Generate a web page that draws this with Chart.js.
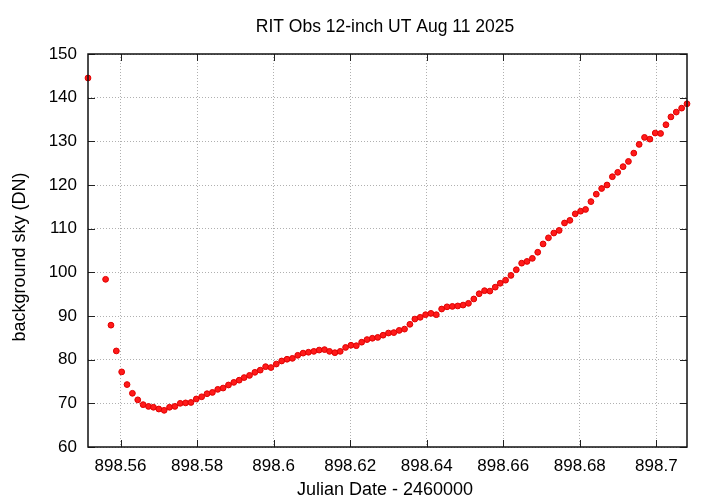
<html lang="en">
<head>
    <meta charset="UTF-8">
    <title>RIT Obs 12-inch UT Aug 11 2025</title>
    <style>
        body {
            margin: 0;
            background-color: #ffffff;
        }
        .chart-container {
            width: 720px;
            height: 504px;
        }
    </style>
</head>
<body>
    <div class="chart-container">
        <canvas id="skyChart" width="720" height="504"></canvas>
    </div>

    <script src="https://cdn.jsdelivr.net/npm/chart.js"></script>
    <script>
        // Julian Date - 2460000
        const julianDates = [
            898.5515,
            898.5561, 898.5575, 898.5589, 898.5603, 898.5617, 898.5631, 898.5645, 898.5659, 898.5673, 898.5686,
            898.5700, 898.5714, 898.5728, 898.5742, 898.5756, 898.5770, 898.5784, 898.5798, 898.5812, 898.5826,
            898.5840, 898.5854, 898.5868, 898.5882, 898.5896, 898.5910, 898.5923, 898.5937, 898.5951, 898.5965,
            898.5979, 898.5993, 898.6007, 898.6021, 898.6035, 898.6049, 898.6063, 898.6077, 898.6091, 898.6105,
            898.6119, 898.6133, 898.6146, 898.6160, 898.6174, 898.6188, 898.6202, 898.6216, 898.6230, 898.6244,
            898.6258, 898.6272, 898.6286, 898.6300, 898.6314, 898.6328, 898.6342, 898.6356, 898.6369, 898.6383,
            898.6397, 898.6411, 898.6425, 898.6439, 898.6453, 898.6467, 898.6481, 898.6495, 898.6509, 898.6523,
            898.6537, 898.6551, 898.6565, 898.6579, 898.6592, 898.6606, 898.6620, 898.6634, 898.6648, 898.6662,
            898.6676, 898.6690, 898.6704, 898.6718, 898.6732, 898.6746, 898.6760, 898.6774, 898.6788, 898.6802,
            898.6815, 898.6829, 898.6843, 898.6857, 898.6871, 898.6885, 898.6899, 898.6913, 898.6927, 898.6941,
            898.6955, 898.6969, 898.6983, 898.6997, 898.7011, 898.7025, 898.7038, 898.7052, 898.7066, 898.7080
        ];

        // background sky (DN)
        const skyValues = [
            144.5,
            98.4, 87.9, 82.0, 77.2, 74.3, 72.3, 70.8, 69.7, 69.3, 69.1,
            68.7, 68.4, 69.1, 69.3, 70.0, 70.1, 70.2, 71.0, 71.5, 72.2,
            72.5, 73.2, 73.5, 74.2, 74.8, 75.3, 75.9, 76.4, 77.1, 77.6,
            78.4, 78.2, 79.0, 79.7, 80.1, 80.3, 81.0, 81.5, 81.7, 81.9,
            82.2, 82.3, 81.9, 81.6, 81.9, 82.8, 83.3, 83.2, 84.0, 84.6,
            84.9, 85.1, 85.6, 86.1, 86.2, 86.7, 87.0, 88.1, 89.3, 89.7,
            90.3, 90.6, 90.3, 91.6, 92.1, 92.2, 92.3, 92.5, 92.9, 93.9,
            95.1, 95.8, 95.7, 96.6, 97.5, 98.2, 99.3, 100.6, 102.1, 102.5,
            103.2, 104.6, 106.5, 107.9, 109.0, 109.6, 111.3, 111.9, 113.4, 114.0,
            114.4, 116.2, 117.9, 119.2, 120.0, 121.9, 122.9, 124.2, 125.4, 127.3,
            129.3, 130.9, 130.5, 131.9, 131.8, 133.8, 135.6, 136.7, 137.6, 138.6
        ];

        const xTicks = [898.56, 898.58, 898.6, 898.62, 898.64, 898.66, 898.68, 898.7];
        const yTicks = [60, 70, 80, 90, 100, 110, 120, 130, 140, 150];

        const titleText = 'RIT Obs 12-inch UT Aug 11 2025';
        const xTitle = 'Julian Date - 2460000';
        const yTitle = 'background sky (DN)';

        const fontFamily = '"Liberation Sans", Arial, sans-serif';

        // frame, inward ticks and titles drawn like gnuplot
        const framePlugin = {
            id: 'frame',
            afterDraw(chart) {
                const ctx = chart.ctx;
                const a = chart.chartArea;
                const xs = chart.scales.x;
                const ys = chart.scales.y;
                const tl = 7;
                ctx.save();
                ctx.strokeStyle = '#222';
                ctx.lineWidth = 1;
                xTicks.forEach(v => {
                    const px = Math.round(xs.getPixelForValue(v)) + 0.5;
                    ctx.beginPath();
                    ctx.moveTo(px, a.bottom); ctx.lineTo(px, a.bottom - tl);
                    ctx.moveTo(px, a.top); ctx.lineTo(px, a.top + tl);
                    ctx.stroke();
                });
                yTicks.forEach(v => {
                    const py = Math.round(ys.getPixelForValue(v)) + 0.5;
                    ctx.beginPath();
                    ctx.moveTo(a.left, py); ctx.lineTo(a.left + tl, py);
                    ctx.moveTo(a.right, py); ctx.lineTo(a.right - tl, py);
                    ctx.stroke();
                });
                ctx.lineWidth = 1.5;
                ctx.strokeStyle = '#111';
                ctx.strokeRect(a.left, a.top, a.right - a.left, a.bottom - a.top);

                ctx.fillStyle = '#000';
                ctx.textAlign = 'center';
                ctx.textBaseline = 'middle';
                ctx.font = '17.5px ' + fontFamily;
                ctx.fillText(titleText, 385, 27);
                ctx.font = '18px ' + fontFamily;
                ctx.fillText(xTitle, 385, 490);
                ctx.translate(20, 257);
                ctx.rotate(-Math.PI / 2);
                ctx.fillText(yTitle, 0, 0);
                ctx.restore();
            }
        };

        const ctx = document.getElementById('skyChart').getContext('2d');
        const skyChart = new Chart(ctx, {
            type: 'scatter',
            data: {
                datasets: [{
                    label: 'sky',
                    data: julianDates.map((x, i) => ({ x: x, y: skyValues[i] })),
                    backgroundColor: '#ff1a1a',
                    borderColor: '#e00000',
                    borderWidth: 1,
                    pointRadius: 2.9,
                    pointHoverRadius: 2.9
                }]
            },
            options: {
                responsive: false,
                animation: false,
                clip: false,
                layout: {
                    padding: { top: 54, right: 33, left: 0, bottom: 0 }
                },
                plugins: {
                    legend: { display: false },
                    tooltip: { enabled: false },
                    title: { display: false }
                },
                scales: {
                    x: {
                        type: 'linear',
                        min: julianDates[0],
                        max: julianDates[julianDates.length - 1],
                        afterFit: scale => { scale.height = 57; },
                        afterBuildTicks: scale => { scale.ticks = xTicks.map(v => ({ value: v })); },
                        ticks: {
                            color: '#000',
                            padding: 9,
                            maxRotation: 0,
                            autoSkip: false,
                            font: { family: fontFamily, size: 17 },
                            callback: v => String(v)
                        },
                        grid: {
                            color: '#b0b0b0',
                            lineWidth: 1,
                            drawTicks: false
                        },
                        border: { display: false, dash: [1, 2] }
                    },
                    y: {
                        min: 60,
                        max: 150,
                        afterFit: scale => { scale.width = 88; },
                        afterBuildTicks: scale => { scale.ticks = yTicks.map(v => ({ value: v })); },
                        ticks: {
                            color: '#000',
                            padding: 11,
                            autoSkip: false,
                            font: { family: fontFamily, size: 17 },
                            callback: v => String(v)
                        },
                        grid: {
                            color: '#b0b0b0',
                            lineWidth: 1,
                            drawTicks: false
                        },
                        border: { display: false, dash: [1, 2] }
                    }
                }
            },
            plugins: [framePlugin]
        });
    </script>
</body>
</html>
